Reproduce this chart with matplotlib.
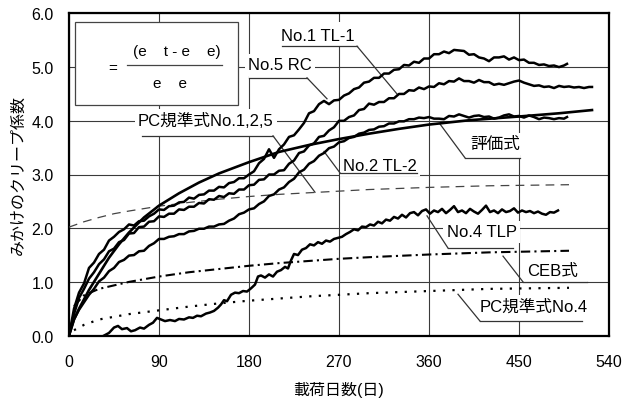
import matplotlib
matplotlib.use("Agg")
import matplotlib.pyplot as plt
from matplotlib import font_manager
from matplotlib.patches import Rectangle

# ---- data (days, creep coefficient) ----
rc_days = list(range(0, 500, 5)) + [498]
rc_vals = [0, 0.5, 0.8, 0.97, 1.26, 1.36, 1.52, 1.6, 1.77, 1.84,
           1.93, 1.98, 2.07, 2.05, 2.13, 2.14, 2.22, 2.27, 2.35, 2.34,
           2.41, 2.42, 2.48, 2.49, 2.57, 2.55, 2.62, 2.63, 2.7, 2.7,
           2.77, 2.76, 2.84, 2.86, 2.93, 2.93, 3.0, 3.06, 3.21, 3.29,
           3.47, 3.31, 3.47, 3.56, 3.7, 3.73, 3.84, 3.96, 4.14, 4.18,
           4.31, 4.37, 4.31, 4.38, 4.39, 4.47, 4.51, 4.59, 4.62, 4.71,
           4.73, 4.8, 4.8, 4.88, 4.88, 4.95, 4.96, 5.04, 5.03, 5.1,
           5.08, 5.16, 5.16, 5.24, 5.24, 5.29, 5.26, 5.32, 5.31, 5.3,
           5.23, 5.24, 5.18, 5.16, 5.11, 5.18, 5.18, 5.2, 5.14, 5.18,
           5.13, 5.14, 5.08, 5.08, 5.04, 5.05, 5.02, 5.03, 5.0, 5.03,
           5.06]

tl1_days = list(range(0, 525, 5)) + [523]
tl1_vals = [0, 0.4, 0.7, 0.87, 1.06, 1.18, 1.33, 1.42, 1.57, 1.62,
            1.74, 1.78, 1.9, 1.91, 2.02, 2.03, 2.12, 2.13, 2.22, 2.21,
            2.27, 2.27, 2.35, 2.34, 2.4, 2.4, 2.47, 2.46, 2.54, 2.53,
            2.6, 2.58, 2.65, 2.64, 2.72, 2.72, 2.8, 2.81, 2.9, 2.91,
            3.0, 3.0, 3.07, 3.08, 3.2, 3.26, 3.4, 3.43, 3.54, 3.58,
            3.7, 3.72, 3.82, 3.88, 4.0, 4.0, 4.07, 4.1, 4.2, 4.22,
            4.32, 4.3, 4.35, 4.35, 4.42, 4.42, 4.5, 4.5, 4.57, 4.56,
            4.62, 4.59, 4.64, 4.63, 4.7, 4.68, 4.74, 4.73, 4.79, 4.74,
            4.74, 4.71, 4.76, 4.72, 4.72, 4.67, 4.69, 4.67, 4.7, 4.73,
            4.75, 4.71, 4.68, 4.65, 4.66, 4.63, 4.64, 4.61, 4.65, 4.63,
            4.64, 4.62, 4.63, 4.61, 4.63, 4.63]

tl2_days = list(range(0, 500, 5)) + [498]
tl2_vals = [0, 0.3, 0.48, 0.62, 0.76, 0.87, 1.01, 1.08, 1.2, 1.26,
            1.37, 1.41, 1.49, 1.5, 1.57, 1.58, 1.67, 1.72, 1.8, 1.8,
            1.84, 1.85, 1.89, 1.89, 1.94, 1.95, 1.99, 1.99, 2.03, 2.03,
            2.07, 2.08, 2.14, 2.18, 2.26, 2.29, 2.35, 2.37, 2.45, 2.5,
            2.6, 2.63, 2.72, 2.76, 2.86, 2.92, 3.04, 3.09, 3.2, 3.25,
            3.35, 3.4, 3.49, 3.52, 3.6, 3.62, 3.68, 3.7, 3.76, 3.78,
            3.83, 3.84, 3.89, 3.9, 3.95, 3.95, 3.99, 3.99, 4.03, 4.03,
            4.06, 4.05, 4.07, 4.04, 4.04, 4.03, 4.09, 4.08, 4.12, 4.09,
            4.06, 4.09, 4.1, 4.07, 4.08, 4.04, 4.06, 4.1, 4.12, 4.08,
            4.09, 4.06, 4.1, 4.07, 4.03, 4.06, 4.05, 4.03, 4.05, 4.04,
            4.07]

tlp_days = [35, 40, 45, 49, 53, 58, 62, 66, 71, 75, 80, 84, 88, 92, 96, 101, 106, 110, 115,
            120, 124, 128, 132, 137, 141, 145, 149, 152, 155, 158, 162, 166, 170, 174, 178,
            182, 186, 189, 192, 196, 200, 204, 208, 212, 216, 219, 222, 225, 229, 233, 237,
            241, 245, 249, 253, 257, 261, 265, 269, 273, 277, 281, 285, 289, 293, 297, 301,
            305, 309, 313, 317, 321, 325, 329, 333, 337, 341, 345, 349, 353, 357, 361, 365,
            369, 373, 377, 381, 385, 389, 393, 397, 401, 405, 409, 413, 417, 421, 425, 429,
            433, 437, 441, 445, 449, 453, 457, 461, 465, 469, 473, 477, 481, 485, 489]
tlp_vals = [0.0, 0.05, 0.15, 0.18, 0.12, 0.14, 0.08, 0.1, 0.15, 0.13, 0.2, 0.24, 0.33, 0.3,
            0.27, 0.29, 0.27, 0.31, 0.3, 0.34, 0.33, 0.37, 0.36, 0.41, 0.43, 0.46, 0.52, 0.58,
            0.66, 0.64, 0.76, 0.8, 0.79, 0.83, 0.82, 0.88, 0.95, 1.1, 1.12, 1.08, 1.14, 1.1,
            1.19, 1.22, 1.28, 1.25, 1.4, 1.52, 1.5, 1.6, 1.63, 1.7, 1.68, 1.74, 1.71, 1.77,
            1.75, 1.8, 1.82, 1.84, 1.89, 1.93, 1.98, 1.96, 2.03, 2.02, 2.07, 2.05, 2.12, 2.09,
            2.16, 2.14, 2.21, 2.18, 2.25, 2.2, 2.28, 2.3, 2.24, 2.32, 2.35, 2.27, 2.33, 2.3,
            2.36, 2.28, 2.34, 2.41, 2.3, 2.33, 2.28, 2.36, 2.31, 2.27, 2.34, 2.42, 2.3, 2.33,
            2.28, 2.35, 2.3, 2.32, 2.37, 2.29, 2.33, 2.3, 2.32, 2.28, 2.31, 2.27, 2.25, 2.3,
            2.29, 2.33]

eval_days = [0, 5, 10, 20, 30, 40, 50, 60, 75, 90, 110, 130, 150, 180, 210, 240, 270, 300,
             330, 360, 400, 450, 490, 523]
eval_vals = [0, 0.3, 0.5, 0.85, 1.15, 1.45, 1.7, 1.92, 2.2, 2.42, 2.65, 2.85, 3.02, 3.23,
             3.42, 3.55, 3.66, 3.76, 3.85, 3.93, 4.01, 4.08, 4.14, 4.2]

pc125_days = [0, 15, 30, 45, 60, 90, 120, 150, 180, 210, 240, 270, 300, 360, 420, 500]
pc125_vals = [2.02, 2.12, 2.2, 2.27, 2.32, 2.41, 2.48, 2.54, 2.59, 2.63, 2.66, 2.69, 2.72,
              2.76, 2.79, 2.81]

ceb_days = [5, 15, 30, 60, 90, 120, 150, 180, 210, 240, 270, 300, 360, 420, 500]
ceb_vals = [0.55, 0.75, 0.87, 1.0, 1.1, 1.18, 1.24, 1.3, 1.35, 1.39, 1.43, 1.46, 1.51, 1.55,
            1.58]

pc4_days = [5, 15, 30, 60, 90, 120, 150, 180, 210, 240, 270, 300, 360, 420, 500]
pc4_vals = [0.1, 0.2, 0.3, 0.4, 0.47, 0.54, 0.6, 0.65, 0.69, 0.73, 0.76, 0.79, 0.83, 0.87, 0.89]

x_ticks = [0, 90, 180, 270, 360, 450, 540]
y_ticks = [0.0, 1.0, 2.0, 3.0, 4.0, 5.0, 6.0]


def pick_font(names):
    for n in names:
        try:
            font_manager.findfont(n, fallback_to_default=False)
            return n
        except Exception:
            pass
    return 'DejaVu Sans'


latin = pick_font(['Liberation Sans Narrow', 'Liberation Sans'])
plt.rcParams['font.family'] = [latin, 'Noto Sans CJK JP', 'DejaVu Sans']

fig = plt.figure(figsize=(6.3, 4.06), dpi=100)
ax = fig.add_axes([69 / 630, 69.4 / 406, 540 / 630, 322.2 / 406])
ax.set_xlim(0, 540)
ax.set_ylim(0, 6)
ax.set_xticks(x_ticks)
ax.set_yticks(y_ticks)
ax.set_yticklabels(['%.1f' % v for v in y_ticks])
ax.tick_params(length=0, labelsize=11.5)
ax.tick_params(axis='x', pad=13)
ax.tick_params(axis='y', pad=11)
ax.set_axisbelow(True)
ax.grid(True, color='#3a3a3a', lw=0.8)
for s in ax.spines.values():
    s.set_linewidth(1.6)

ax.set_xlabel('載荷日数(日)', fontsize=11.5, labelpad=9)
ax.set_ylabel('みかけのクリープ係数', fontsize=11.5, labelpad=4)

# code / formula curves
ax.plot(pc125_days, pc125_vals, color='#444444', lw=0.9, ls=(0, (7, 5)), zorder=3)
ax.plot(ceb_days, ceb_vals, color='black', lw=1.5, ls=(0, (4.5, 2, 1, 2)), zorder=3)
ax.plot(pc4_days, pc4_vals, color='black', lw=1.6, ls=(0, (1, 3.3)), zorder=3)
ax.plot(eval_days, eval_vals, color='black', lw=1.9, zorder=4)

# measured curves
for d, v in [(rc_days, rc_vals), (tl1_days, tl1_vals), (tl2_days, tl2_vals),
             (tlp_days, tlp_vals)]:
    ax.plot(d, v, color='black', lw=1.8, zorder=4)

# formula box
ax.add_patch(Rectangle((6, 4.29), 163, 1.55, facecolor='white', edgecolor='#444444',
                       lw=0.9, zorder=2))
ax.text(44, 4.98, '=', fontsize=11, ha='center', va='center', zorder=3)
ax.text(108, 5.30, '(e    t - e    e)', fontsize=11, ha='center', va='center', zorder=3)
ax.plot([58, 153], [5.04, 5.04], color='#444444', lw=0.9, zorder=3)
ax.text(101, 4.70, 'e    e', fontsize=11, ha='center', va='center', zorder=3)

# labels with underline and leader
labels = [
    ('No.1 TL-1', 249, 5.58, 213, 288, 5.39, 'r', 328, 4.50),
    ('No.5 RC', 211, 5.04, 180, 238, 4.80, 'r', 258, 4.41),
    ('PC規準式No.1,2,5', 137, 4.01, 73, 204, 3.72, 'r', 246, 2.67),
    ('No.2 TL-2', 311, 3.17, 271, 348, 3.03, 'l', 255, 3.43),
    ('評価式', 426, 3.57, 396, 451, 3.31, 'l', 371, 3.94),
    ('No.4 TLP', 413, 1.93, 379, 444, 1.63, 'l', 358, 2.23),
    ('CEB式', 484, 1.22, 454, 518, 1.0, 'l', 434, 1.48),
    ('PC規準式No.4', 465, 0.55, 411, 513, 0.27, 'l', 389, 0.77),
]
for txt, tx, ty, ux0, ux1, uy, side, lx, ly in labels:
    ax.text(tx, ty, txt, fontsize=12, ha='center', va='center', zorder=2,
            bbox=dict(facecolor='white', edgecolor='none', pad=2.5))
    ax.add_patch(Rectangle((ux0, uy), ux1 - ux0, 0.45, facecolor='white',
                           edgecolor='none', zorder=1))
    ax.plot([ux0, ux1], [uy, uy], color='#333333', lw=0.9, zorder=2)
    sx = ux1 if side == 'r' else ux0
    ax.plot([sx, lx], [uy, ly], color='#333333', lw=0.9, zorder=2)

fig.savefig('out.png', dpi=100)
